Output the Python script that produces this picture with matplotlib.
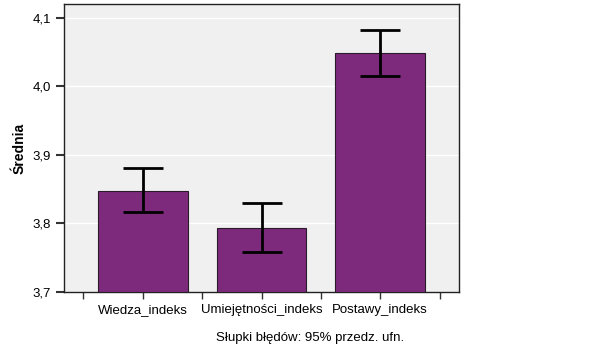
import matplotlib
matplotlib.use("Agg")
import matplotlib.pyplot as plt
import numpy as np

categories = ["Wiedza_indeks", "Umiejętności_indeks", "Postawy_indeks"]
means = [3.848, 3.794, 4.049]
ci_low = [3.816, 3.759, 4.015]
ci_high = [3.881, 3.830, 4.082]
yticks = [3.7, 3.8, 3.9, 4.0, 4.1]
ytick_labels = ["3,7", "3,8", "3,9", "4,0", "4,1"]

plt.rcParams['font.family'] = ['Liberation Sans', 'DejaVu Sans']

fig = plt.figure(figsize=(6.14, 3.61), dpi=100)
W, H = 614, 361
ax = fig.add_axes([64/W, 1-292/H, (459-64)/W, (292-4)/H])
ax.set_facecolor('#f0f0f0')

x = np.arange(len(categories))
ax.bar(x, [m - 3.7 for m in means], bottom=3.7, width=0.756,
       color='#7d2a7d', edgecolor='#2a1a2a', linewidth=0.8, zorder=3)
yerr = [np.array(means) - np.array(ci_low), np.array(ci_high) - np.array(means)]
ax.errorbar(x, means, yerr=yerr, fmt='none', ecolor='black', elinewidth=2,
            capsize=14.5, capthick=2, zorder=4)

ax.set_ylim(3.7, 4.12)
ax.set_xlim(-0.664, 2.664)
ax.set_yticks(yticks)
ax.set_yticklabels(ytick_labels, fontsize=9.5)
for yv in yticks[1:]:
    ax.axhline(yv, color='white', linewidth=1, zorder=1)

ax.set_xticks(x)
ax.set_xticklabels(categories, fontsize=9.5)
ax.set_xticks([-0.5, 0.5, 1.5, 2.5], minor=True)
ax.tick_params(axis='x', which='both', length=5, width=1, direction='out', color='#333333')
ax.tick_params(axis='y', length=6, width=1.5, direction='out', color='#333333')
for s in ax.spines.values():
    s.set_color('#222222')
    s.set_linewidth(1)

ax.set_ylabel("Średnia", fontsize=10, fontweight='bold', labelpad=4)
fig.text(310/W, 1-338/H, "Słupki błędów: 95% przedz. ufn.", ha='center', va='center', fontsize=9.5)

fig.savefig("out.png", dpi=100)
